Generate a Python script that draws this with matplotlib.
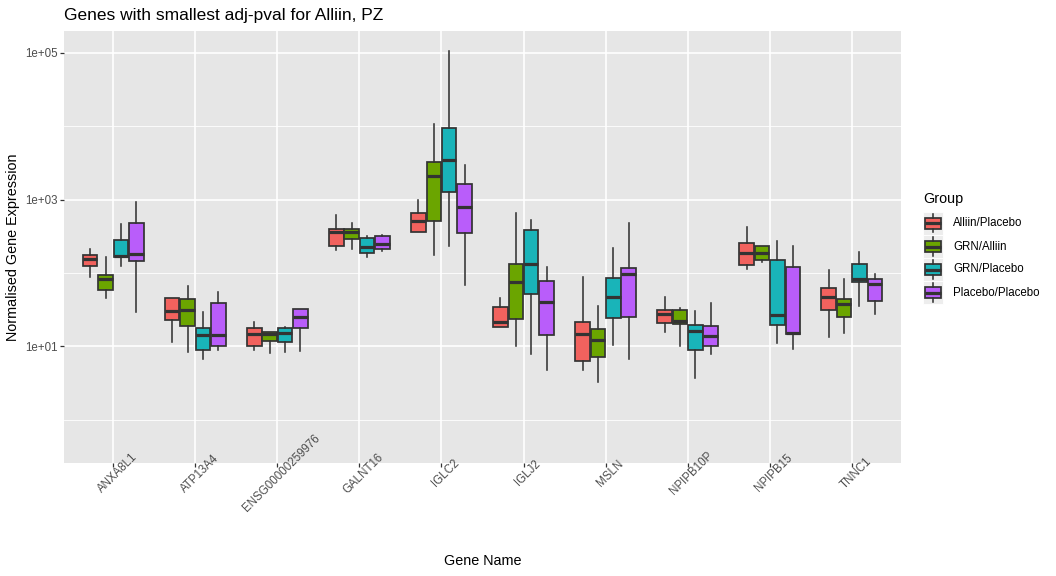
import matplotlib
matplotlib.use("Agg")
import matplotlib.pyplot as plt
from matplotlib.patches import Rectangle
from matplotlib.lines import Line2D
import numpy as np

plt.rcParams["font.family"] = ["Liberation Sans", "DejaVu Sans"]

genes = ["ANXA8L1", "ATP13A4", "ENSG00000259976", "GALNT16", "IGLC2",
         "IGLJ2", "MSLN", "NPIPB10P", "NPIPB15", "TNNC1"]
groups = ["Alliin/Placebo", "GRN/Alliin", "GRN/Placebo", "Placebo/Placebo"]
colors = ["#F2625E", "#6BA500", "#19B4B9", "#B95DFA"]

# per gene: [whisker low, q1, median, q3, whisker high]
alliin_placebo = [
    [89, 123, 155, 175, 212],
    [11.3, 22.8, 30, 46, 46],
    [9.0, 10.0, 14.6, 17.9, 21.2],
    [207, 230, 357, 400, 610],
    [361, 361, 505, 661, 975],
    [18.5, 18.5, 21.4, 34, 45],
    [4.75, 6.3, 14.6, 21.6, 87],
    [15.5, 21.0, 27.3, 31.5, 47.4],
    [113, 127, 187, 253, 422],
    [13.3, 30.9, 46.5, 63, 110],
]
grn_alliin = [
    [45, 59, 83, 93, 163],
    [8.3, 19.1, 31.5, 44.6, 66],
    [8.0, 11.9, 14.6, 15.6, 15.8],
    [214, 287, 357, 393, 474],
    [177, 514, 2070, 3210, 10590],
    [10.1, 23.5, 74.5, 133, 649],
    [3.3, 7.1, 12.3, 17.4, 35],
    [10.1, 20.0, 21.9, 31.5, 33],
    [142, 151, 187, 230, 230],
    [15.2, 24.8, 37.3, 43.7, 82],
]
grn_placebo = [
    [124, 163, 171, 283, 459],
    [6.7, 9.0, 14.1, 17.6, 29],
    [8.4, 11.3, 15.0, 17.9, 18.5],
    [166, 188, 225, 299, 318],
    [230, 1265, 3450, 9510, 106500],
    [7.8, 51.6, 131, 380, 521],
    [10.5, 24.3, 46.5, 85, 220],
    [3.7, 9.0, 16.3, 19.5, 30],
    [11.2, 19.3, 26.4, 151, 270],
    [35.7, 75, 83, 132, 191],
]
placebo_placebo = [
    [29, 145, 179, 483, 916],
    [9.0, 10.2, 14.1, 39.3, 55],
    [8.5, 17.6, 25.3, 31.9, 31.9],
    [197, 210, 245, 322, 325],
    [68, 347, 783, 1610, 2980],
    [4.75, 14.1, 39.7, 78, 120],
    [6.7, 24.8, 96, 117, 474],
    [7.9, 10.1, 13.7, 18.7, 39.3],
    [9.3, 14.8, 15.0, 119, 235],
    [27.3, 41, 70.6, 83, 96],
]
series = [alliin_placebo, grn_alliin, grn_placebo, placebo_placebo]

W, H = 1056, 576
fig = plt.figure(figsize=(W / 100, H / 100), dpi=100)
fig.patch.set_facecolor("white")

# panel in pixel coords
px_left, px_right, px_top, px_bottom = 64, 901, 31, 462.7
ax = fig.add_axes([px_left / W, 1 - px_bottom / H,
                   (px_right - px_left) / W, (px_bottom - px_top) / H])
ax.set_facecolor("#E6E6E6")
for s in ax.spines.values():
    s.set_visible(False)

ax.set_yscale("log")
ax.set_xlim(0.4, 10.6)
ax.set_ylim(10 ** -0.586, 10 ** 5.296)

# grid
for v in [1e0, 1e2, 1e4]:
    ax.axhline(v, color="white", lw=0.6, zorder=0)
for v in [1e1, 1e3, 1e5]:
    ax.axhline(v, color="white", lw=1.2, zorder=0)
for i in range(len(genes)):
    ax.axvline(i + 1, color="white", lw=1.2, zorder=0)

slot = 0.1875
box_w = 0.177
edge = "#333333"
for g, (data, col) in enumerate(zip(series, colors)):
    stats = []
    for row in data:
        lo, q1, med, q3, hi = row
        stats.append(dict(whislo=lo, q1=q1, med=med, q3=q3, whishi=hi, fliers=[]))
    positions = np.arange(1, len(genes) + 1) + (g - 1.5) * slot
    ax.bxp(stats, positions=positions, widths=box_w, patch_artist=True,
           showcaps=False, showfliers=False, manage_ticks=False,
           boxprops=dict(facecolor=col, edgecolor=edge, linewidth=1.25),
           medianprops=dict(color=edge, linewidth=2.3, solid_capstyle="butt"),
           whiskerprops=dict(color=edge, linewidth=1.15), zorder=3)

ax.set_yticks([1e1, 1e3, 1e5])
ax.set_yticklabels(["1e+01", "1e+03", "1e+05"])
ax.yaxis.set_minor_locator(matplotlib.ticker.NullLocator())
ax.set_xticks(np.arange(1, len(genes) + 1))
ax.set_xticklabels(genes, rotation=45, ha="center", va="top", rotation_mode="anchor")
ax.tick_params(axis="both", length=2.6, width=0.9, color=edge, labelcolor="#4D4D4D",
               labelsize=8.3, pad=2.1)

fig.text(px_left / W, 1 - 20 / H, "Genes with smallest adj-pval for Alliin, PZ",
         fontsize=12.5, ha="left", va="baseline", color="black")
fig.text(13 / W, 1 - ((px_top + px_bottom) / 2) / H, "Normalised Gene Expression",
         fontsize=10.4, rotation=90, ha="center", va="center")
fig.text(((px_left + px_right) / 2) / W, 1 - 561 / H, "Gene Name",
         fontsize=10.4, ha="center", va="center")

# legend drawn by hand, ggplot style
fig.text(923 / W, 1 - 203 / H, "Group", fontsize=10.4, ha="left", va="baseline")
key_x, key_w, key_h = 922.5, 20, 23
key_centers = [223.3, 246.5, 269.5, 292.5]
for name, col, cy in zip(groups, colors, key_centers):
    top = cy - key_h / 2
    fig.patches.append(Rectangle((key_x / W, 1 - (top + key_h) / H), key_w / W, key_h / H,
                                 transform=fig.transFigure, facecolor="#EDEDED",
                                 edgecolor="white", lw=0.6))
    bx0 = key_x + 0.1 * key_w
    bx1 = key_x + 0.9 * key_w
    by0 = top + 0.25 * key_h
    by1 = top + 0.75 * key_h
    xm = key_x + key_w / 2
    fig.lines.append(Line2D([xm / W, xm / W], [1 - (top + 0.1 * key_h) / H, 1 - by0 / H],
                            transform=fig.transFigure, color=edge, lw=1.15))
    fig.lines.append(Line2D([xm / W, xm / W], [1 - by1 / H, 1 - (top + 0.9 * key_h) / H],
                            transform=fig.transFigure, color=edge, lw=1.15))
    fig.patches.append(Rectangle((bx0 / W, 1 - by1 / H), (bx1 - bx0) / W, (by1 - by0) / H,
                                 transform=fig.transFigure, facecolor=col,
                                 edgecolor=edge, lw=1.25))
    fig.lines.append(Line2D([bx0 / W, bx1 / W], [1 - cy / H, 1 - cy / H],
                            transform=fig.transFigure, color=edge, lw=2.3,
                            solid_capstyle="butt"))
    fig.text(953 / W, 1 - cy / H, name, fontsize=8.3, ha="left", va="center")

fig.savefig("out.png", dpi=100)
